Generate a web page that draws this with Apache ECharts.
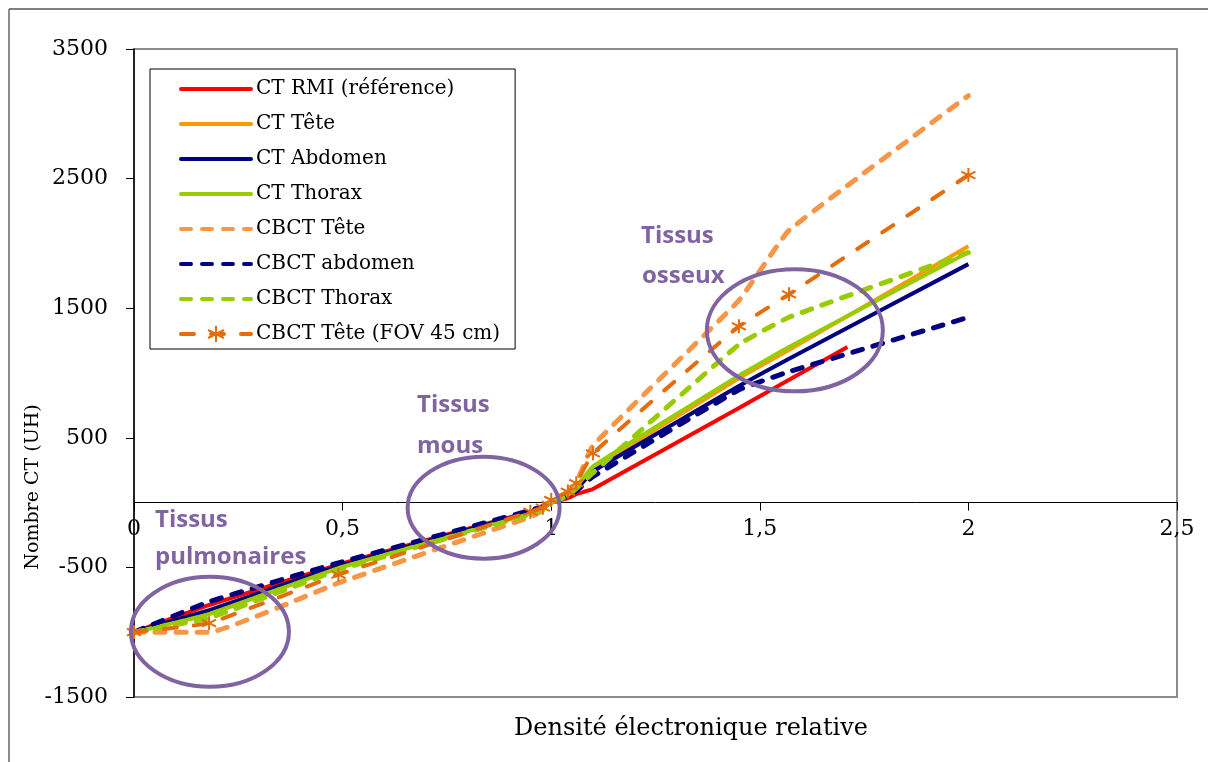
<!DOCTYPE html>
<html><head><meta charset="utf-8">
<script src="https://cdn.jsdelivr.net/npm/echarts@6/dist/echarts.min.js"></script>
<style>html,body{margin:0;padding:0;background:#fff}#c{width:1208px;height:762px}</style>
</head><body><div id="c"></div>
<script>
// Relative electron densities (phantom inserts)
const densityX    = [0, 0.18, 0.49, 0.95, 0.98, 1.0, 1.04, 1.06, 1.1, 1.45, 1.57, 2.0];
const densityXRMI = [0, 0.18, 0.49, 0.95, 0.98, 1.0, 1.04, 1.06, 1.1, 1.45, 1.71];

// CT numbers (UH)
const ctRMI       = [-1000, -790, -478, -70, -35, 0, 35, 65, 105, 730, 1200];
const ctTete      = [-1000, -850, -500, -80, -40, 0, 60, 110, 260, 960, 1180, 1978];
const ctAbdomen   = [-1000, -830, -490, -75, -40, 0, 55, 100, 240, 900, 1110, 1840];
const ctThorax    = [-1000, -860, -505, -85, -45, 0, 60, 120, 280, 980, 1200, 1932];
const cbctTete    = [-1000, -1000, -620, -110, -60, 0, 60, 150, 440, 1560, 2100, 3140];
const cbctAbdomen = [-1000, -765, -465, -60, -30, 0, 50, 90, 200, 870, 1010, 1430];
const cbctThorax  = [-1000, -890, -520, -90, -50, 0, 50, 110, 230, 1220, 1430, 1930];
const cbctTeteFov = [-1000, -930, -556, -70, -39, 20, 85, 150, 380, 1360, 1607, 2527];

const seriesNames = ['CT RMI (référence)', 'CT Tête', 'CT Abdomen', 'CT Thorax',
  'CBCT Tête', 'CBCT abdomen', 'CBCT Thorax', 'CBCT Tête (FOV 45 cm)'];

const xTicks = {min: 0, max: 2.5, interval: 0.5};
const yTicks = {min: -1500, max: 3500, interval: 1000};

// Annotation regions (data coordinates of ellipse centres)
const regionCenters = [[0.182, -997], [0.838, -39], [1.584, 1329]];

const chart = echarts.init(document.getElementById('c'), null, {renderer: 'canvas'});
const pairs = (xs, ys) => xs.map((x, i) => [x, ys[i]]);
const serif = 'DejaVu Serif';
const asterisk = 'path://M0,-10L0,10M-8.66,-5L8.66,5M-8.66,5L8.66,-5';
const SMOOTH = 0.1;

function solid(name, xs, ys, color) {
  return {name, type: 'line', data: pairs(xs, ys), symbol: 'none', smooth: SMOOTH,
    lineStyle: {color, width: 4}, itemStyle: {color}};
}
function dashed(name, xs, ys, color, dash, w) {
  return {name, type: 'line', data: pairs(xs, ys), symbol: 'none', smooth: SMOOTH,
    lineStyle: {color, width: w, type: dash, cap: 'round'}, itemStyle: {color}};
}
const fov = dashed(seriesNames[7], densityX, cbctTeteFov, '#E46C0A', [13, 17], 4);
fov.symbol = asterisk; fov.symbolSize = 14; fov.showSymbol = true;
fov.itemStyle = {color: '#E46C0A', borderColor: '#E46C0A', borderWidth: 2};

const legendData = seriesNames.map((n, i) => i === 7
  ? {name: n}
  : {name: n, itemStyle: {opacity: 0}});

const gridBox = {left: 134, right: 31, top: 49, bottom: 65};

const baseOption = {
  animation: false,
  backgroundColor: '#fff',
  grid: Object.assign({show: true, borderColor: '#8c8c8c', borderWidth: 2}, gridBox),
  legend: {
    orient: 'vertical', left: 150, top: 69, padding: [10, 15, 5, 29],
    itemWidth: 70, itemHeight: 20, itemGap: 15,
    borderColor: '#000', borderWidth: 1, backgroundColor: '#fff',
    lineStyle: {width: 4, cap: 'round'},
    textStyle: {fontFamily: serif, fontSize: 20, color: '#000', lineHeight: 20},
    data: legendData
  },
  xAxis: {type: 'value', min: xTicks.min, max: xTicks.max, interval: xTicks.interval,
    axisLine: {onZero: false, lineStyle: {color: '#000', width: 1}},
    axisTick: {show: true, length: 8, lineStyle: {color: '#000'}},
    axisLabel: {formatter: v => String(v).replace('.', ','), fontFamily: serif, fontSize: 22, color: '#000', margin: 16},
    splitLine: {show: false}},
  yAxis: {type: 'value', min: yTicks.min, max: yTicks.max, interval: yTicks.interval,
    axisLine: {show: true, onZero: false, lineStyle: {color: '#000', width: 1.5}},
    axisTick: {show: true, length: 8, lineStyle: {color: '#000'}},
    axisLabel: {formatter: v => String(v), fontFamily: serif, fontSize: 22, color: '#000', margin: 26},
    splitLine: {show: false}},
  series: [
    solid(seriesNames[0], densityXRMI, ctRMI, '#FF0000'),
    solid(seriesNames[1], densityX, ctTete, '#FF9900'),
    solid(seriesNames[2], densityX, ctAbdomen, '#000080'),
    solid(seriesNames[3], densityX, ctThorax, '#99CC00'),
    dashed(seriesNames[4], densityX, cbctTete, '#F79646', [10, 11], 5),
    dashed(seriesNames[5], densityX, cbctAbdomen, '#000080', [10, 11], 5),
    dashed(seriesNames[6], densityX, cbctThorax, '#99CC00', [10, 11], 5),
    fov
  ]
};
chart.setOption(baseOption);

// Move the x axis (line, ticks, labels) up to the y = 0 line
const zeroPx = chart.convertToPixel({gridIndex: 0}, [0, 0])[1];
const bottomPx = 762 - gridBox.bottom;
chart.setOption({xAxis: {offset: -(bottomPx - zeroPx)}});

const radii = [[79, 55], [76, 51], [88, 61]];
const purple = '#8064A2';
const ann = {fontFamily: 'Open Sans', fontWeight: 'bold', fontSize: 24, fill: purple};
const graphics = [
  {type: 'line', shape: {x1: 9, y1: 9, x2: 1208, y2: 9}, style: {stroke: '#000', lineWidth: 1.2}, z: 100},
  {type: 'line', shape: {x1: 9, y1: 9, x2: 9, y2: 762}, style: {stroke: '#666', lineWidth: 1.5}, z: 100},
  {type: 'text', x: 691, y: 729, style: {text: 'Densité électronique relative', fontFamily: serif, fontSize: 24, fill: '#000', align: 'center', verticalAlign: 'middle'}, z: 100},
  {type: 'text', x: 33, y: 487, rotation: Math.PI / 2, style: {text: 'Nombre CT (UH)', fontFamily: serif, fontSize: 19, fill: '#000', align: 'center', verticalAlign: 'middle'}, z: 100},
  {type: 'text', x: 155, y: 520, style: Object.assign({text: 'Tissus', verticalAlign: 'middle'}, ann), z: 100},
  {type: 'text', x: 155, y: 557, style: Object.assign({text: 'pulmonaires', verticalAlign: 'middle'}, ann), z: 100},
  {type: 'text', x: 417, y: 405, style: Object.assign({text: 'Tissus', verticalAlign: 'middle'}, ann), z: 100},
  {type: 'text', x: 417, y: 446, style: Object.assign({text: 'mous', verticalAlign: 'middle'}, ann), z: 100},
  {type: 'text', x: 641, y: 236, style: Object.assign({text: 'Tissus', verticalAlign: 'middle'}, ann), z: 100},
  {type: 'text', x: 642, y: 276, style: Object.assign({text: 'osseux', verticalAlign: 'middle'}, ann), z: 100}
];
regionCenters.forEach((c, i) => {
  const p = chart.convertToPixel({gridIndex: 0}, c);
  graphics.push({type: 'ellipse', shape: {cx: p[0], cy: p[1], rx: radii[i][0], ry: radii[i][1]},
    style: {fill: 'none', stroke: purple, lineWidth: 4}, z: 100});
});
chart.setOption({graphic: graphics});
</script></body></html>
